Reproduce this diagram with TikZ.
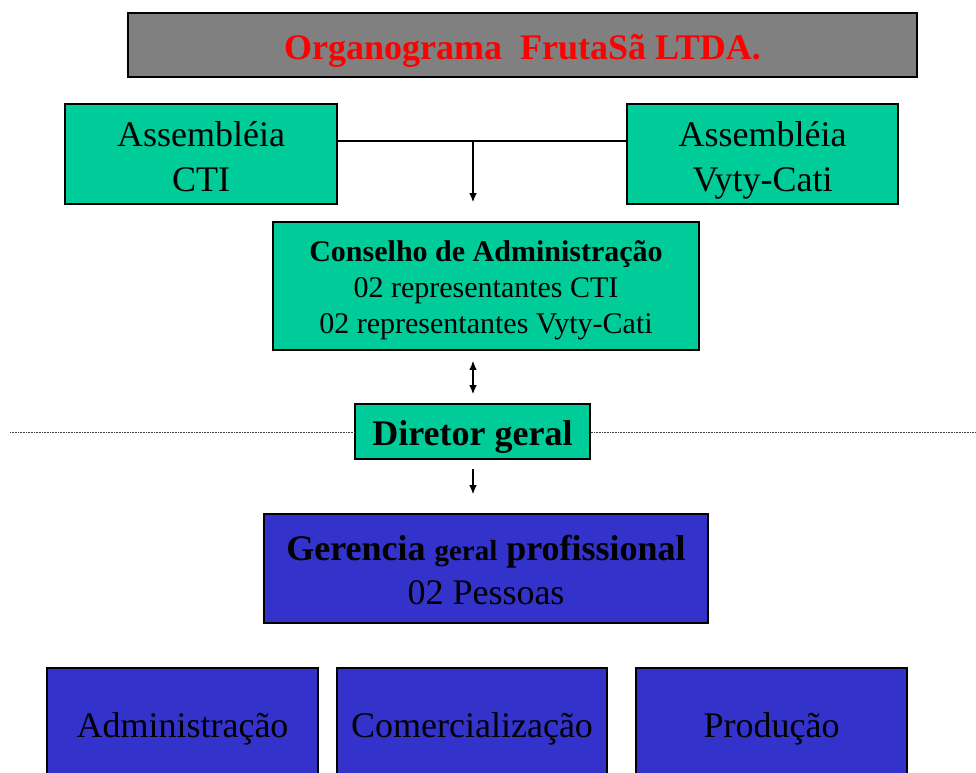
\documentclass[tikz,border=0pt]{standalone}
\usepackage{fontspec}
\setmainfont{Liberation Serif}
\usetikzlibrary{arrows.meta}
\definecolor{teal1}{RGB}{0,204,153}
\definecolor{blue1}{RGB}{51,51,204}
\definecolor{gray1}{RGB}{128,128,128}
\begin{document}
\begin{tikzpicture}[x=1pt,y=-1pt,
  box/.style={draw=black,line width=1.6pt,inner sep=0pt,align=center,text=black},
  greenbox/.style={box,fill=teal1},
  bluebox/.style={box,fill=blue1},
  conn/.style={line width=1.3pt,black},
  tip/.style={-{Latex[length=9pt,width=7.5pt]}},
  dtip/.style={{Latex[length=9pt,width=7.5pt]}-{Latex[length=9pt,width=7.5pt]}},
  dotline/.style={line width=1pt,gray!50!black,dash pattern=on 0.8pt off 0.8pt}
]
\clip (0,0) rectangle (976,772);
\fill[white] (0,0) rectangle (976,772);

% title
\node[box,fill=gray1,minimum width=789pt,minimum height=64pt,text=red,
  text height=28pt,text depth=0pt,
  font=\bfseries\fontsize{36}{43}\selectfont] (title) at (522.5,45) {Organograma\ \ FrutaSã LTDA.};

% assemblies
\node[greenbox,minimum width=272pt,minimum height=100pt,
  text height=74pt,text depth=0pt,
  font=\fontsize{36}{45}\selectfont] (acti) at (201,154) {Assembléia\\CTI};
\node[greenbox,minimum width=271pt,minimum height=100pt,
  text height=74pt,text depth=0pt,
  font=\fontsize{36}{45}\selectfont] (avc) at (762.5,154) {Assembléia\\Vyty-Cati};

% conselho
\node[greenbox,minimum width=426pt,minimum height=128pt,
  text height=94pt,text depth=0pt,
  font=\fontsize{30}{36}\selectfont] (cons) at (486,286)
  {\textbf{Conselho de Administração}\\02 representantes CTI\\02 representantes Vyty-Cati};

% dotted line
\coordinate (dl) at (10,432);
\coordinate (dr) at (976,432);

% diretor
\node[greenbox,minimum width=235pt,minimum height=55pt,
  text height=27pt,text depth=0pt,
  font=\bfseries\fontsize{36}{43}\selectfont] (dir) at (472.5,431.5) {Diretor geral};

\draw[dotline] (dl) -- (dir.west |- dl);
\draw[dotline] (dir.east |- dr) -- (dr);

% gerencia
\node[bluebox,minimum width=444pt,minimum height=109pt,
  text height=71.6pt,text depth=0pt,
  font=\fontsize{36}{44}\selectfont] (ger) at (486,568.5)
  {\textbf{Gerencia {\fontsize{29}{44}\selectfont geral} profissional}\\02 Pessoas};

% bottom boxes
\node[bluebox,minimum width=271pt,minimum height=114pt,
  text height=24pt,text depth=0pt,
  font=\fontsize{36}{43}\selectfont] (adm) at (182.5,725) {Administração};
\node[bluebox,minimum width=270pt,minimum height=114pt,
  text height=24pt,text depth=0pt,
  font=\fontsize{36}{43}\selectfont] (com) at (472,725) {Comercialização};
\node[bluebox,minimum width=271pt,minimum height=114pt,
  text height=24pt,text depth=0pt,
  font=\fontsize{36}{43}\selectfont] (prod) at (771.5,725) {Produção};

% connectors
\coordinate (j) at (473,141);
\draw[conn] (acti.east |- j) -- (avc.west |- j);
\draw[conn,tip,shorten >=19pt] (j) -- (j |- cons.north);
\draw[conn,dtip,shorten <=10pt,shorten >=9pt] (cons.south -| j) -- (dir.north -| j);
\draw[conn,tip,shorten <=9pt,shorten >=19pt] (dir.south -| j) -- (ger.north -| j);
\end{tikzpicture}
\end{document}
